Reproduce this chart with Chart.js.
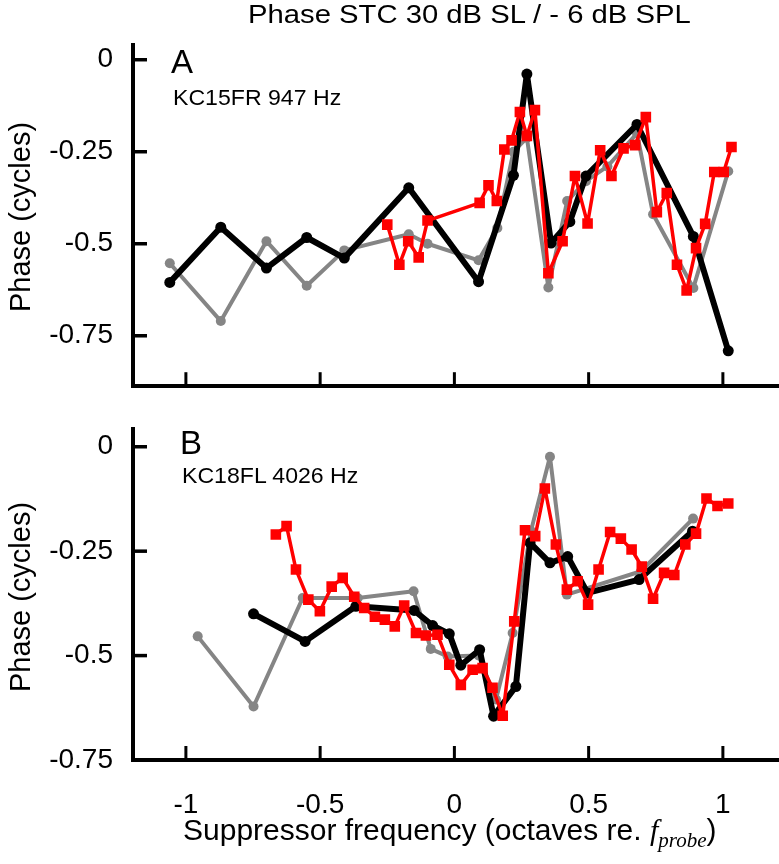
<!DOCTYPE html>
<html>
<head>
<meta charset="utf-8">
<script src="https://cdn.jsdelivr.net/npm/chart.js@4/dist/chart.umd.min.js"></script>
<style>
  body{margin:0;background:#fff;font-family:"Liberation Sans",Arial,sans-serif;}
  #wrap{position:relative;width:779px;height:864px;overflow:hidden;}
  .box{position:absolute;left:0;width:779px;}
  .txt{position:absolute;white-space:nowrap;line-height:1;color:#000;transform-origin:left top;}
  .ytitle{position:absolute;white-space:nowrap;line-height:1;font-size:29px;transform:translate(-50%,-50%) rotate(-90deg);}
</style>
</head>
<body>
<div id="wrap">
  <div class="box" style="top:0;height:415px;"><canvas id="chartA"></canvas></div>
  <div class="box" style="top:400px;height:464px;"><canvas id="chartB"></canvas></div>

  <div class="txt" style="left:248px;top:2px;font-size:25px;transform:scaleX(1.17);">Phase STC 30 dB SL / - 6 dB SPL</div>
  <div class="txt" style="left:171px;top:45px;font-size:33px;">A</div>
  <div class="txt" style="left:173px;top:87px;font-size:22px;transform:scaleX(1.05);">KC15FR 947 Hz</div>
  <div class="txt" style="left:180px;top:426px;font-size:33px;">B</div>
  <div class="txt" style="left:182px;top:465px;font-size:22px;transform:scaleX(1.05);">KC18FL 4026 Hz</div>
  <div class="ytitle" style="left:20px;top:217px;">Phase (cycles)</div>
  <div class="ytitle" style="left:20px;top:597px;">Phase (cycles)</div>
  <div class="txt" style="left:183px;top:815px;font-size:30px;">Suppressor frequency (octaves re. <i style="font-family:'Liberation Serif',serif;">f<sub style="font-size:21px;">probe</sub></i>)</div>
</div>

<script>
// Achsen-Ticks
const xTicks=[-1,-0.5,0,0.5,1];
const yTicks=[0,-0.25,-0.5,-0.75];

// Panel A: KC15FR 947 Hz
const aGrayX=[-1.06,-0.87,-0.70,-0.55,-0.41,-0.17,-0.10,0.09,0.16,0.22,0.27,0.35,0.42,0.49,0.57,0.68,0.74,0.89,1.02];
const aGrayY=[-0.553,-0.71,-0.493,-0.614,-0.518,-0.474,-0.50,-0.545,-0.457,-0.25,-0.212,-0.619,-0.384,-0.33,-0.29,-0.20,-0.42,-0.62,-0.303];
const aBlackX=[-1.06,-0.87,-0.70,-0.55,-0.41,-0.17,0.09,0.22,0.27,0.36,0.43,0.49,0.68,0.89,1.02];
const aBlackY=[-0.605,-0.455,-0.566,-0.483,-0.539,-0.348,-0.603,-0.314,-0.039,-0.498,-0.44,-0.316,-0.176,-0.48,-0.791];
const aRedX=[-0.25,-0.205,-0.172,-0.133,-0.10,0.094,0.127,0.158,0.186,0.213,0.244,0.27,0.30,0.35,0.403,0.449,0.496,0.543,0.585,0.63,0.673,0.713,0.754,0.791,0.829,0.865,0.90,0.934,0.968,1.003,1.032];
const aRedY=[-0.448,-0.557,-0.493,-0.537,-0.437,-0.389,-0.341,-0.384,-0.244,-0.219,-0.142,-0.207,-0.137,-0.58,-0.493,-0.316,-0.445,-0.246,-0.316,-0.241,-0.232,-0.156,-0.414,-0.362,-0.557,-0.627,-0.512,-0.446,-0.305,-0.305,-0.237];

// Panel B: KC18FL 4026 Hz
const bGrayX=[-0.956,-0.748,-0.565,-0.36,-0.152,-0.088,-0.025,0.09,0.155,0.217,0.285,0.356,0.419,0.695,0.889];
const bGrayY=[-0.454,-0.622,-0.362,-0.362,-0.346,-0.484,-0.502,-0.50,-0.605,-0.446,-0.202,-0.024,-0.354,-0.298,-0.172];
const bBlackX=[-0.748,-0.556,-0.367,-0.15,-0.081,-0.019,0.024,0.094,0.146,0.229,0.282,0.356,0.422,0.496,0.688,0.887];
const bBlackY=[-0.40,-0.466,-0.382,-0.392,-0.428,-0.448,-0.523,-0.486,-0.645,-0.574,-0.23,-0.278,-0.263,-0.35,-0.318,-0.202];
const bRedX=[-0.665,-0.625,-0.59,-0.544,-0.501,-0.457,-0.416,-0.373,-0.336,-0.296,-0.259,-0.222,-0.187,-0.143,-0.106,-0.063,-0.019,0.024,0.068,0.105,0.142,0.18,0.223,0.263,0.301,0.337,0.378,0.419,0.459,0.498,0.537,0.58,0.62,0.66,0.698,0.74,0.781,0.819,0.86,0.90,0.939,0.98,1.02];
const bRedY=[-0.21,-0.19,-0.294,-0.366,-0.394,-0.335,-0.314,-0.359,-0.386,-0.407,-0.414,-0.43,-0.38,-0.446,-0.452,-0.45,-0.522,-0.57,-0.534,-0.53,-0.577,-0.644,-0.418,-0.20,-0.214,-0.10,-0.234,-0.342,-0.322,-0.378,-0.294,-0.204,-0.22,-0.246,-0.287,-0.364,-0.302,-0.307,-0.234,-0.208,-0.124,-0.142,-0.136];

function punkte(xs,ys){
    return xs.map((x,i)=>({x:x,y:ys[i]}));
}

//Ticks nach innen zeichnen
const innenTicks={
    id:'innenTicks',
    afterDraw(chart){
        const {ctx,chartArea,scales}=chart;
        ctx.save();
        ctx.strokeStyle='#000';
        ctx.lineWidth=3.5;
        yTicks.forEach(v=>{
            const y=scales.y.getPixelForValue(v);
            ctx.beginPath();ctx.moveTo(chartArea.left,y);ctx.lineTo(chartArea.left+14,y);ctx.stroke();
        });
        ctx.lineWidth=3;
        xTicks.forEach(v=>{
            const x=scales.x.getPixelForValue(v);
            ctx.beginPath();ctx.moveTo(x,chartArea.bottom);ctx.lineTo(x,chartArea.bottom-14);ctx.stroke();
        });
        ctx.restore();
    }
};

function datensaetze(grauX,grauY,schwarzX,schwarzY,rotX,rotY){
    return [
        {data:punkte(rotX,rotY),borderColor:'#ff0000',backgroundColor:'#ff0000',borderWidth:3.5,pointStyle:'rect',pointRadius:7.5,pointBorderWidth:0,order:0},
        {data:punkte(schwarzX,schwarzY),borderColor:'#000000',backgroundColor:'#000000',borderWidth:6,pointStyle:'circle',pointRadius:5.5,pointBorderWidth:0,order:1},
        {data:punkte(grauX,grauY),borderColor:'#858585',backgroundColor:'#858585',borderWidth:4,pointStyle:'circle',pointRadius:5,pointBorderWidth:0,order:2},
    ];
}

function chartErzeugen(canvasId,daten,yMin,yMax,zeigeXLabels,padTop,xHoehe){
    new Chart(document.getElementById(canvasId),{
        type:'line',
        data:{datasets:daten},
        plugins:[innenTicks],
        options:{
            responsive:true,
            maintainAspectRatio:false,
            animation:false,
            devicePixelRatio:1,
            layout:{autoPadding:false,padding:{top:padTop,right:0,bottom:0,left:0}},
            elements:{line:{tension:0,borderJoinStyle:'round'}},
            scales:{
                x:{
                    type:'linear',
                    min:-1.197,
                    max:1.209,
                    afterBuildTicks:s=>{s.ticks=xTicks.map(v=>({value:v}));},
                    afterFit:s=>{s.height=xHoehe;},
                    grid:{display:false},
                    border:{display:true,color:'#000',width:4},
                    ticks:{
                        display:zeigeXLabels,
                        color:'#000',
                        padding:20,
                        maxRotation:0,
                        font:{family:'"Liberation Sans", Arial, sans-serif',size:28},
                        callback:v=>String(v),
                    },
                },
                y:{
                    type:'linear',
                    min:yMin,
                    max:yMax,
                    afterBuildTicks:s=>{s.ticks=yTicks.map(v=>({value:v}));},
                    afterFit:s=>{s.width=133;},
                    grid:{display:false},
                    border:{display:true,color:'#000',width:4},
                    ticks:{
                        color:'#000',
                        padding:12,
                        font:{family:'"Liberation Sans", Arial, sans-serif',size:28},
                        callback:v=>String(v),
                    },
                },
            },
            plugins:{
                legend:{display:false},
                tooltip:{enabled:false},
                title:{display:false},
            },
        },
    });
}

chartErzeugen('chartA',datensaetze(aGrayX,aGrayY,aBlackX,aBlackY,aRedX,aRedY),-0.887,0.04,false,45,15);
chartErzeugen('chartB',datensaetze(bGrayX,bGrayY,bBlackX,bBlackY,bRedX,bRedY),-0.75,0.043,true,28,104);
</script>
</body>
</html>
